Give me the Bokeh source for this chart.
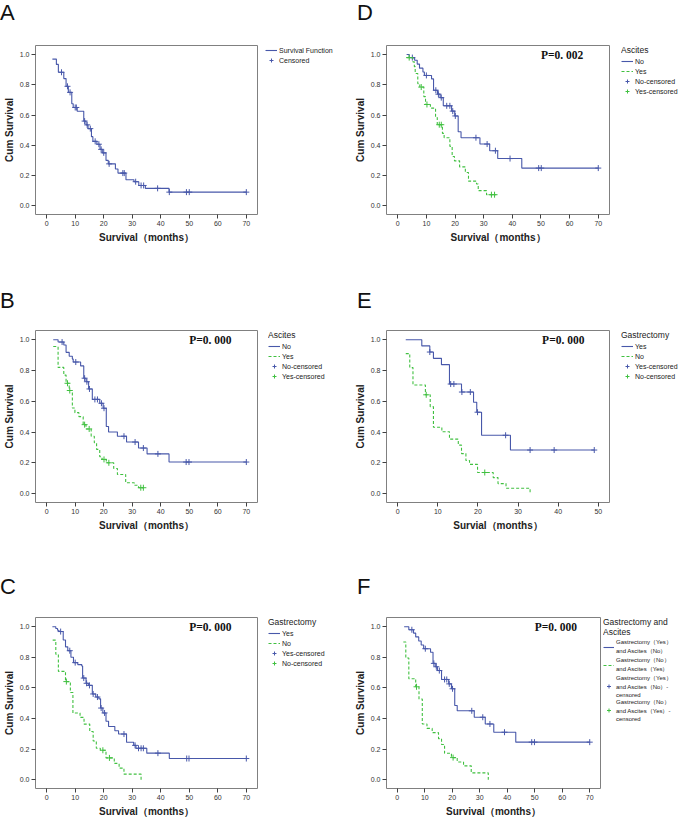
import numpy as np
from bokeh.plotting import figure
from bokeh.models import Range1d, Legend, LegendItem, FixedTicker, NumeralTickFormatter, Div
from bokeh.layouts import row, column
from bokeh.core.properties import value
from bokeh.embed import file_html
from bokeh.resources import INLINE

# ---------------- data ----------------
# Panel A (overall)
a_t = [2.0, 3.4, 4.1, 6.0, 6.8, 7.6, 8.8, 9.3, 10.7, 13.0, 13.8, 14.5, 15.7, 16.2, 17.6, 18.7, 19.5,
       20.8, 21.6, 24.1, 25.0, 27.8, 30.6, 32.3, 34.6, 42.9, 70.0]
a_s = [0.97, 0.935, 0.883, 0.841, 0.79, 0.75, 0.675, 0.65, 0.625, 0.56, 0.535, 0.51, 0.457, 0.426, 0.407,
       0.373, 0.35, 0.30, 0.277, 0.243, 0.216, 0.172, 0.159, 0.134, 0.115, 0.09, 0.09]
a_c = [5.2, 7.3, 8.2, 10.0, 10.4, 13.3, 14.2, 15.3, 17.0, 18.3, 19.1, 20.0, 21.9, 26.7, 27.2, 31.2,
       33.1, 34.0, 38.9, 43.0, 49.0, 50.0, 70.0]

# Panel B (Ascites)
b_no_t = [2.3, 4.0, 6.0, 6.8, 7.9, 9.0, 9.3, 11.9, 13.0, 13.8, 14.7, 16.0, 18.6, 19.8, 20.9, 21.7,
          24.8, 28.0, 32.2, 35.2, 42.9, 70.0]
b_no_s = [1.0, 0.985, 0.966, 0.918, 0.893, 0.874, 0.855, 0.83, 0.75, 0.727, 0.68, 0.612, 0.587, 0.555,
          0.436, 0.40, 0.373, 0.335, 0.296, 0.258, 0.205, 0.205]
b_no_c = [5.4, 10.2, 13.3, 14.1, 15.0, 16.9, 17.8, 19.2, 20.1, 27.1, 31.0, 33.9, 39.0, 48.9, 49.9, 70.0]
b_yes_t = [2.3, 4.0, 6.0, 6.8, 7.9, 9.0, 9.9, 11.3, 12.8, 13.8, 15.6, 16.7, 17.5, 18.6, 19.4, 20.9,
           23.5, 24.8, 27.7, 30.7, 32.2, 33.9]
b_yes_s = [0.956, 0.82, 0.77, 0.717, 0.67, 0.556, 0.526, 0.50, 0.448, 0.42, 0.373, 0.33, 0.287, 0.239,
           0.222, 0.20, 0.163, 0.124, 0.07, 0.054, 0.038, 0.038]
b_yes_c = [7.3, 8.1, 13.3, 14.9, 20.1, 21.8, 33.0, 33.9]

# Panel C (Gastrectomy)
c_yes_t = [2.0, 3.2, 3.8, 4.3, 5.8, 6.6, 7.4, 8.5, 9.4, 10.9, 12.3, 12.6, 13.8, 14.6, 16.0, 17.2, 18.3,
           18.9, 19.7, 20.8, 21.7, 23.9, 25.2, 28.0, 30.5, 31.3, 35.1, 43.0, 70.0]
c_yes_s = [1.0, 0.988, 0.977, 0.968, 0.913, 0.868, 0.843, 0.80, 0.765, 0.752, 0.743, 0.664, 0.63, 0.616,
           0.56, 0.54, 0.528, 0.468, 0.436, 0.382, 0.347, 0.32, 0.298, 0.244, 0.224, 0.205, 0.173, 0.138, 0.138]
c_yes_c = [4.9, 8.1, 10.0, 13.0, 14.0, 15.0, 16.3, 17.8, 19.1, 20.3, 27.1, 31.0, 32.2, 33.1, 33.9,
           39.0, 49.1, 49.9, 70.0]
c_no_t = [2.1, 3.2, 4.1, 6.6, 8.3, 9.2, 11.7, 13.1, 15.1, 16.3, 17.4, 18.8, 20.8, 23.7, 25.4, 27.1, 33.1]
c_no_s = [0.912, 0.82, 0.708, 0.641, 0.57, 0.436, 0.407, 0.363, 0.315, 0.253, 0.205, 0.192, 0.142,
          0.106, 0.075, 0.036, 0.0]
c_no_c = [6.9, 19.7, 22.0]

# Panel D (Ascites)
d_no_t = [3.1, 4.0, 5.9, 6.8, 7.6, 8.8, 9.3, 11.8, 12.5, 13.9, 14.8, 15.9, 18.8, 19.9, 21.1, 22.1,
          28.7, 32.1, 34.9, 43.3, 70.0]
d_no_s = [1.0, 0.98, 0.962, 0.937, 0.91, 0.885, 0.862, 0.839, 0.764, 0.738, 0.715, 0.661, 0.626, 0.594,
          0.489, 0.45, 0.408, 0.364, 0.312, 0.249, 0.249]
d_no_c = [5.1, 10.0, 13.3, 14.2, 15.2, 17.1, 18.2, 19.2, 20.1, 27.3, 31.2, 34.1, 39.2, 49.2, 50.1, 70.0]
d_yes_t = [3.1, 5.3, 5.8, 6.1, 7.0, 7.7, 9.1, 9.7, 11.4, 13.2, 13.8, 15.6, 16.2, 18.2, 19.0, 19.8,
           21.6, 23.6, 24.7, 27.5, 28.1, 31.0, 34.4]
d_yes_s = [0.98, 0.952, 0.92, 0.875, 0.808, 0.785, 0.722, 0.67, 0.646, 0.584, 0.536, 0.479, 0.45,
           0.393, 0.326, 0.297, 0.257, 0.22, 0.163, 0.144, 0.10, 0.073, 0.073]
d_yes_c = [4.0, 8.2, 10.2, 14.5, 15.2, 32.7, 33.8]

# Panel E (Gastrectomy)
e_yes_t = [2.0, 6.0, 8.0, 8.9, 10.9, 12.9, 15.9, 18.9, 19.7, 20.9, 28.1, 49.0]
e_yes_s = [1.0, 0.96, 0.92, 0.879, 0.838, 0.712, 0.66, 0.594, 0.529, 0.379, 0.283, 0.283]
e_yes_c = [8.0, 13.2, 14.0, 16.0, 18.1, 19.9, 26.9, 33.0, 39.0, 49.0]
e_no_t = [2.0, 3.0, 3.8, 6.9, 8.1, 8.9, 11.0, 12.9, 15.1, 15.9, 17.0, 17.9, 19.9, 23.8, 25.0, 27.0, 33.0]
e_no_s = [0.91, 0.819, 0.706, 0.642, 0.565, 0.431, 0.402, 0.354, 0.315, 0.26, 0.215, 0.19, 0.137,
          0.104, 0.065, 0.035, 0.0]
e_no_c = [7.1, 21.7]

# Panel F (Gastrectomy and Ascites)
f_a_t = [2.5, 4.2, 5.9, 6.7, 7.8, 8.7, 9.6, 12.1, 13.0, 13.8, 14.6, 16.1, 18.7, 19.7, 20.9, 21.8,
         28.0, 32.0, 35.1, 43.1, 70.0]
f_a_s = [1.0, 0.98, 0.958, 0.933, 0.906, 0.88, 0.856, 0.833, 0.76, 0.738, 0.713, 0.655, 0.626, 0.594,
         0.485, 0.45, 0.408, 0.364, 0.31, 0.245, 0.245]
f_a_c = [5.3, 10.2, 13.3, 14.2, 15.3, 17.2, 18.0, 18.9, 20.1, 27.1, 31.1, 33.7, 39.0, 48.9, 49.9, 70.0]
f_b_t = [2.2, 3.1, 4.2, 6.7, 7.9, 9.1, 10.8, 12.7, 15.0, 16.1, 17.2, 19.7, 21.8, 24.1, 26.9, 33.1]
f_b_s = [0.9, 0.795, 0.66, 0.607, 0.527, 0.364, 0.335, 0.307, 0.268, 0.23, 0.172, 0.144, 0.115, 0.09,
         0.044, 0.0]
f_b_c = [7.0, 20.3]

y_ticks = [0.0, 0.2, 0.4, 0.6, 0.8, 1.0]
x_ticks70 = [0, 10, 20, 30, 40, 50, 60, 70]
x_ticks50 = [0, 10, 20, 30, 40, 50]

panel_letters = [("A", "D"), ("B", "E"), ("C", "F")]
labels_a = ["Survival Function", "Censored"]
labels_asc = ["No", "Yes", "No-censored", "Yes-censored"]
labels_gas = ["Yes", "No", "Yes-censored", "No-censored"]
labels_f = ["Gastrectomy（Yes）\nand Ascites（No）", "Gastrectomy（No）\nand Ascites（Yes）",
            "Gastrectomy（Yes）\nand Ascites（No）-\ncensored", "Gastrectomy（No）\nand Ascites（Yes）-\ncensored"]
p_vals = {"B": "P=0. 000", "C": "P=0. 000", "D": "P=0. 002", "E": "P=0. 000", "F": "P=0. 000"}

BLUE = "#4858aa"
GREEN = "#40c040"
SANS = "Liberation Sans"
Y0, Y1 = -0.058, 1.06
STRIP_H = 26


def censor_y(t, s, c):
    t = np.asarray(t); s = np.asarray(s)
    idx = np.searchsorted(t, np.asarray(c), side="right") - 1
    return s[np.clip(idx, 0, None)]


def letter_div(letter, width):
    html = ('<div style="font-family:\'Liberation Sans\',Arial,sans-serif;font-size:22px;'
            'line-height:26px;color:#111111;margin:0;padding:0;">%s</div>' % letter)
    return Div(text=html, width=width, height=STRIP_H, margin=0)


def letter_strip(letters):
    return row(letter_div(letters[0], 357), letter_div(letters[1], 326))


def plot_panel(width, height, bleft, bright, btop, bbot, xmax, xticks, xlabel, series, pval=None, px=50):
    pad = xmax * 0.056
    p = figure(width=width, height=height, title=None, output_backend="svg", toolbar_location=None,
               x_range=Range1d(-pad, xmax + pad), y_range=Range1d(Y0, Y1),
               min_border_left=bleft, min_border_top=btop, min_border_bottom=bbot, min_border_right=bright)
    p.grid.visible = False
    p.outline_line_color = "#808080"
    p.outline_line_width = 1
    for ax in (p.xaxis, p.yaxis):
        ax.axis_line_color = None
        ax.major_tick_in = 0
        ax.major_tick_out = 4
        ax.major_tick_line_color = "#404040"
        ax.minor_tick_line_color = None
        ax.major_label_text_font = SANS
        ax.major_label_text_font_size = "7px"
        ax.major_label_text_color = "#333333"
        ax.axis_label_text_font = SANS
        ax.axis_label_text_font_size = "10px"
        ax.axis_label_text_font_style = "bold"
        ax.axis_label_text_color = "#222222"
        ax.major_label_standoff = 2
        ax.axis_label_standoff = 3
    p.yaxis.axis_label_standoff = 2
    p.xaxis.ticker = FixedTicker(ticks=xticks)
    p.yaxis.ticker = FixedTicker(ticks=y_ticks)
    p.yaxis.formatter = NumeralTickFormatter(format="0.0")
    p.xaxis.axis_label = xlabel
    p.yaxis.axis_label = "Cum Survival"

    for (t, s, c), color, dash in series:
        p.step(t, s, mode="after", line_color=color, line_width=1.1, line_dash=dash)
        cy = censor_y(t, s, c)
        p.scatter(c, cy, marker="cross", size=6, line_color=color, line_width=1)
    if pval:
        p.text(x=[px], y=[0.997], text=[pval], text_font=value("Liberation Serif"),
               text_font_style="bold", text_font_size="11.5px", text_align="left",
               text_baseline="middle", text_color="#111111")
    return p


def legend_panel(width, height, top, left, series, labels, ltitle=None, fsize="7px", gw=12, tsize="8.5px"):
    # separate legend canvas; its ranges keep the (real) data out of view so only the legend shows
    q = figure(width=width, height=height, title=None, x_axis_location=None, y_axis_location=None,
               output_backend="svg", toolbar_location=None,
               x_range=Range1d(500, 501), y_range=Range1d(500, 501),
               min_border_left=left, min_border_right=0, min_border_top=top, min_border_bottom=0)
    q.grid.visible = False
    q.outline_line_color = None
    lines, marks = [], []
    for (t, s, c), color, dash in series:
        lines.append(q.step(t, s, mode="after", line_color=color, line_width=1.1, line_dash=dash))
    for (t, s, c), color, dash in series:
        marks.append(q.scatter(c, censor_y(t, s, c), marker="cross", size=7, line_color=color, line_width=1))
    items = [LegendItem(label=lab, renderers=[r]) for lab, r in zip(labels, lines + marks)]
    leg = Legend(items=items, location="top_left", margin=0, padding=2, spacing=0,
                 glyph_width=gw, glyph_height=10, label_height=10, label_standoff=2,
                 label_text_font=SANS, label_text_font_size=fsize, label_text_color="#222222",
                 border_line_color=None, background_fill_alpha=0)
    if ltitle:
        leg.title = ltitle
        leg.title_text_font = SANS
        leg.title_text_font_size = tsize
        leg.title_text_font_style = "normal"
        leg.title_text_color = "#222222"
        leg.title_standoff = 1
    q.add_layout(leg)
    return q


XL = "Survival（months）"
BT = 4
H1, H2, H3 = 262, 260, 221   # heights below each letter strip
B1, B2, B3 = 74, 72, 33      # bottom borders
sA = [((a_t, a_s, a_c), BLUE, "solid")]
sB = [((b_no_t, b_no_s, b_no_c), BLUE, "solid"), ((b_yes_t, b_yes_s, b_yes_c), GREEN, "3 2")]
sC = [((c_yes_t, c_yes_s, c_yes_c), BLUE, "solid"), ((c_no_t, c_no_s, c_no_c), GREEN, "3 2")]
sD = [((d_no_t, d_no_s, d_no_c), BLUE, "solid"), ((d_yes_t, d_yes_s, d_yes_c), GREEN, "3 2")]
sE = [((e_yes_t, e_yes_s, e_yes_c), BLUE, "solid"), ((e_no_t, e_no_s, e_no_c), GREEN, "3 2")]
sF = [((f_a_t, f_a_s, f_a_c), BLUE, "solid"), ((f_b_t, f_b_s, f_b_c), GREEN, "3 2")]

# left column: plot 265, legend 86 -> 351 ; right column: plot 264, legend 66 -> 330
pA = plot_panel(265, H1, 28, 8, BT, B1, 70, x_ticks70, XL, sA)
lA = legend_panel(86, H1, 19, 0, sA, labels_a)
pD = plot_panel(264, H1, 31, 6, BT, B1, 70, x_ticks70, XL, sD, p_vals["D"])
lD = legend_panel(66, H1, 19, 6, sD, labels_asc, "Ascites")

pB = plot_panel(265, H2, 28, 8, BT, B2, 70, x_ticks70, XL, sB, p_vals["B"])
lB = legend_panel(86, H2, 16, 3, sB, labels_asc, "Ascites")
pE = plot_panel(264, H2, 31, 6, BT, B2, 50, x_ticks50, "Survial（months）", sE, p_vals["E"], px=36)
lE = legend_panel(66, H2, 16, 6, sE, labels_gas, "Gastrectomy")

pC = plot_panel(265, H3, 28, 8, BT, B3, 70, x_ticks70, XL, sC, p_vals["C"])
lC = legend_panel(86, H3, 17, 3, sC, labels_gas, "Gastrectomy")
pF = plot_panel(252, H3, 31, 3, BT, B3, 70, x_ticks70, XL, sF, p_vals["F"])
lF = legend_panel(78, H3, 15, 0, sF, labels_f, "Gastrectomy and\nAscites", fsize="6px", gw=11)

layout = column(
    letter_strip(panel_letters[0]), row(pA, lA, pD, lD),
    letter_strip(panel_letters[1]), row(pB, lB, pE, lE),
    letter_strip(panel_letters[2]), row(pC, lC, pF, lF),
)
open("out.html", "w").write(file_html(layout, INLINE))
